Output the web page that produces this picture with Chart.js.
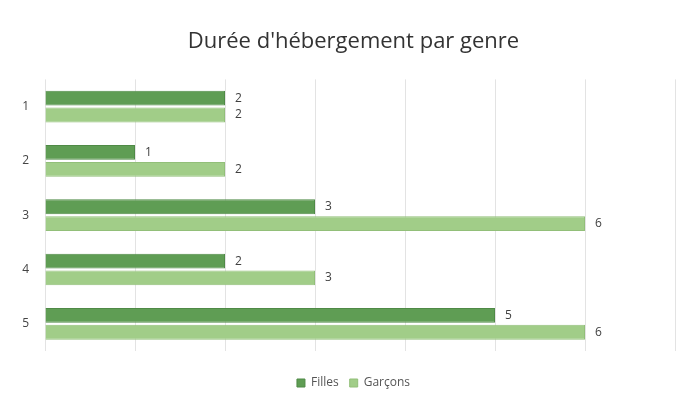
<!DOCTYPE html>
<html>
<head>
<meta charset="utf-8">
<script src="https://cdn.jsdelivr.net/npm/chart.js@4/dist/chart.umd.min.js"></script>
<style>
  html, body { margin: 0; padding: 0; background: #fff; }
  #wrap { position: relative; width: 687px; height: 407px; }
</style>
</head>
<body>
<div id="wrap"><canvas id="chart"></canvas></div>
<script>
const categories = ["1", "2", "3", "4", "5"];
const filles = [2, 1, 3, 2, 5];
const garcons = [2, 2, 6, 3, 6];
const xTicks = [0, 1, 2, 3, 4, 5, 6, 7];

const FONT = "'Open Sans', 'Noto Sans', sans-serif";

// draws the value to the right of each bar
const valueLabels = {
  id: "valueLabels",
  afterDatasetsDraw(chart) {
    const ctx = chart.ctx;
    ctx.save();
    ctx.font = "12px " + FONT;
    ctx.fillStyle = "#404040";
    ctx.textBaseline = "middle";
    ctx.textAlign = "left";
    chart.data.datasets.forEach((ds, i) => {
      const meta = chart.getDatasetMeta(i);
      meta.data.forEach((bar, j) => {
        ctx.fillText(String(ds.data[j]), bar.x + 10, bar.y);
      });
    });
    ctx.restore();
  },
};

const ctx = document.getElementById("chart").getContext("2d");
new Chart(ctx, {
  type: "bar",
  data: {
    labels: categories,
    datasets: [
      {
        label: "Filles",
        data: filles,
        backgroundColor: "#5f9d54",
        borderColor: "#4f8a46",
        borderWidth: 1,
        barPercentage: 0.88,
        categoryPercentage: 0.62,
      },
      {
        label: "Garçons",
        data: garcons,
        backgroundColor: "#a1cd88",
        borderColor: "#92bf79",
        borderWidth: 1,
        barPercentage: 0.88,
        categoryPercentage: 0.62,
      },
    ],
  },
  options: {
    indexAxis: "y",
    responsive: true,
    maintainAspectRatio: false,
    animation: false,
    layout: { padding: { left: 21, right: 1, top: 20, bottom: 8 } },
    plugins: {
      title: {
        display: true,
        text: "Durée d'hébergement par genre",
        color: "#333",
        font: { family: FONT, size: 22, weight: "normal" },
        padding: { top: 9, bottom: 24 },
      },
      legend: {
        position: "bottom",
        labels: {
          color: "#555",
          font: { family: FONT, size: 12 },
          boxWidth: 8,
          boxHeight: 8,
          padding: 11,
        },
      },
      tooltip: { enabled: false },
    },
    scales: {
      x: {
        min: 0,
        max: 7,
        afterBuildTicks: (axis) => {
          axis.ticks = xTicks.map((v) => ({ value: v }));
        },
        afterFit: (axis) => { axis.height = 15; },
        ticks: { display: false },
        grid: { color: "#e3e3e3", drawTicks: false },
        border: { display: false },
      },
      y: {
        afterFit: (axis) => { axis.width = 24; },
        ticks: {
          color: "#444",
          font: { family: FONT, size: 12 },
          padding: 16,
        },
        grid: { display: false, drawTicks: false },
        border: { display: false },
      },
      // empty spacer on the right so the plot ends where the reference does
      yRight: {
        position: "right",
        afterFit: (axis) => { axis.width = 11; },
        ticks: { display: false },
        grid: { display: false, drawTicks: false },
        border: { display: false },
      },
    },
  },
  plugins: [valueLabels],
});
</script>
</body>
</html>
